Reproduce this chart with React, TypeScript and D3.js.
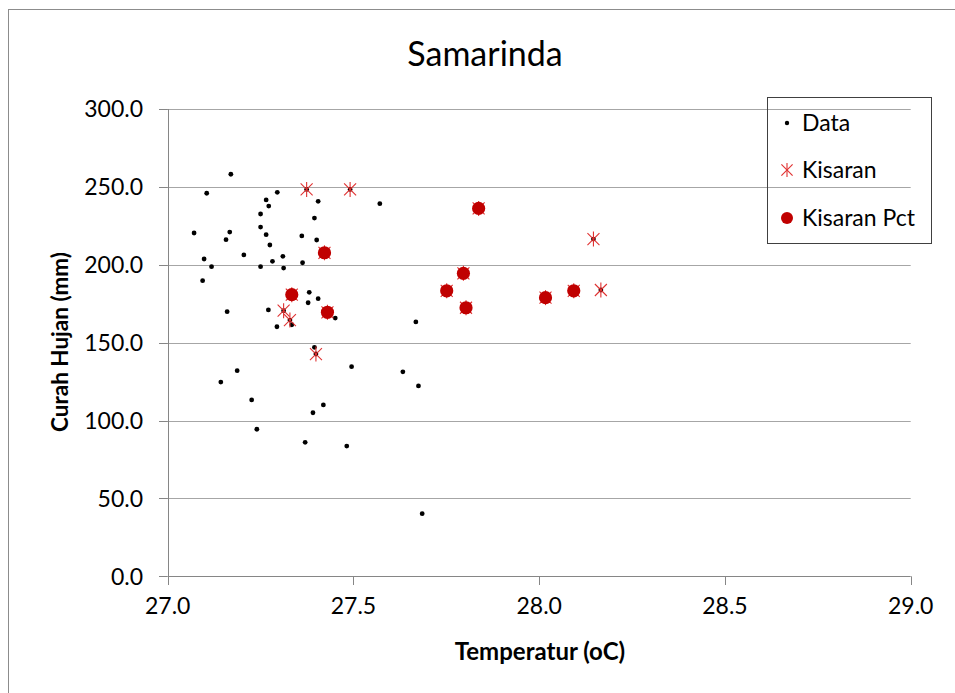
import * as d3 from "d3";

// Data series (temperature °C, rainfall mm)
const dataTemp = [
  27.17, 27.105, 27.295, 27.374, 27.491, 27.265, 27.272, 27.405, 27.571, 27.25,
  27.395, 27.071, 27.167, 27.157, 27.25, 27.265, 27.361, 27.401, 27.275, 27.205,
  27.098, 27.118, 27.25, 27.282, 27.31, 27.312, 27.363, 27.422, 27.094, 27.334,
  27.381, 27.405, 27.378, 27.16, 27.271, 27.312, 27.329, 27.334, 27.43, 27.451,
  27.294, 27.668, 27.395, 27.399, 27.495, 27.187, 27.143, 27.633, 27.675, 27.226,
  27.419, 27.391, 27.24, 27.37, 27.482, 27.685, 27.837, 28.146, 27.796, 27.751,
  27.803, 28.017, 28.093, 28.166,
];
const dataRain = [
  258.1, 245.9, 246.5, 248.4, 248.4, 241.6, 237.7, 240.7, 239.2, 232.6,
  230.0, 220.4, 221.0, 216.1, 224.2, 219.3, 218.5, 215.9, 212.7, 206.3,
  203.7, 198.8, 198.8, 202.2, 205.4, 197.9, 201.3, 207.7, 189.8, 180.8,
  182.3, 178.2, 175.6, 169.9, 171.0, 170.5, 164.5, 161.5, 169.5, 165.8,
  160.2, 163.3, 147.0, 142.7, 134.6, 132.0, 124.7, 131.3, 122.2, 113.2,
  110.0, 105.0, 94.4, 86.0, 83.6, 40.2, 236.2, 216.5, 194.5, 183.3,
  172.4, 178.9, 183.3, 183.8,
];

const kisaranTemp = [
  27.374, 27.491, 27.312, 27.329, 27.399, 28.146, 28.166,
  27.422, 27.334, 27.43, 27.837, 27.796, 27.751, 27.803, 28.017, 28.093,
];
const kisaranRain = [
  248.4, 248.4, 170.5, 164.5, 142.7, 216.5, 183.8,
  207.7, 180.8, 169.5, 236.2, 194.5, 183.3, 172.4, 178.9, 183.3,
];

const pctTemp = [27.422, 27.334, 27.43, 27.837, 27.796, 27.751, 27.803, 28.017, 28.093];
const pctRain = [207.7, 180.8, 169.5, 236.2, 194.5, 183.3, 172.4, 178.9, 183.3];

const xTicks = [27.0, 27.5, 28.0, 28.5, 29.0];
const yTicks = [0, 50, 100, 150, 200, 250, 300];
const legendLabels = ["Data", "Kisaran", "Kisaran Pct"];

const W = 955;
const H = 693;
const FONT = "Lato, 'Open Sans', sans-serif";
const RED = "#C00000";
const STAR = "#E03030";

function Star({ x, y, s = 7.5 }: { x: number; y: number; s?: number }) {
  const d = s * 0.8;
  return (
    <g stroke={STAR} strokeWidth={1.1} fill="none">
      <line x1={x - d} y1={y - d} x2={x + d} y2={y + d} />
      <line x1={x - d} y1={y + d} x2={x + d} y2={y - d} />
      <line x1={x} y1={y - s} x2={x} y2={y + s} />
    </g>
  );
}

export default function App() {
  const x = d3.scaleLinear().domain([27, 29]).range([167.7, 910.7]);
  const y = d3.scaleLinear().domain([0, 300]).range([576.3, 109]);
  const fmt = d3.format(".1f");

  const dataPts = dataTemp.map((t, i) => [t, dataRain[i]]);
  const kisPts = kisaranTemp.map((t, i) => [t, kisaranRain[i]]);
  const pctPts = pctTemp.map((t, i) => [t, pctRain[i]]);

  const lx = 787;
  const legendY = [123, 170, 218];

  return (
    <svg
      width={W}
      height={H}
      style={{ position: "absolute", left: 0, top: 0, display: "block", background: "#fff" }}
    >
      {/* outer chart border */}
      <rect x={8.5} y={9.5} width={W + 20} height={H + 20} fill="#fff" stroke="#8c8c8c" />

      <text x={485} y={66} textAnchor="middle" fontFamily={FONT} fontSize={34} fill="#000">
        Samarinda
      </text>

      {/* gridlines + y ticks */}
      {yTicks.map((t) => (
        <g key={t}>
          {t > 0 && (
            <line x1={159} x2={x(29)} y1={Math.round(y(t)) + 0.5} y2={Math.round(y(t)) + 0.5} stroke="#a6a6a6" />
          )}
          <line x1={159} x2={x(27)} y1={Math.round(y(t)) + 0.5} y2={Math.round(y(t)) + 0.5} stroke="#868686" />
          <text
            x={143}
            y={y(t)}
            dy="0.36em"
            textAnchor="end"
            fontFamily={FONT}
            fontSize={23}
            fill="#000"
          >
            {fmt(t)}
          </text>
        </g>
      ))}

      {/* axes */}
      <line x1={Math.round(x(27)) + 0.5} x2={Math.round(x(27)) + 0.5} y1={y(300)} y2={585} stroke="#868686" />
      <line x1={x(27)} x2={x(29)} y1={Math.round(y(0)) + 0.5} y2={Math.round(y(0)) + 0.5} stroke="#868686" />
      {xTicks.map((t) => (
        <g key={t}>
          <line x1={Math.round(x(t)) + 0.5} x2={Math.round(x(t)) + 0.5} y1={y(0)} y2={585} stroke="#868686" />
          <text x={x(t)} y={614} textAnchor="middle" fontFamily={FONT} fontSize={23} fill="#000">
            {fmt(t)}
          </text>
        </g>
      ))}

      <text x={540} y={660} textAnchor="middle" fontFamily={FONT} fontWeight="bold" fontSize={24} fill="#000">
        Temperatur (oC)
      </text>
      <text
        transform="translate(68,342) rotate(-90)"
        textAnchor="middle"
        fontFamily={FONT}
        fontWeight="bold"
        fontSize={22.5}
        fill="#000"
      >
        Curah Hujan (mm)
      </text>

      {/* series */}
      {dataPts.map((p, i) => (
        <circle key={"d" + i} cx={x(p[0])} cy={y(p[1])} r={2.4} fill="#000" />
      ))}
      {kisPts.map((p, i) => (
        <Star key={"k" + i} x={x(p[0])} y={y(p[1])} />
      ))}
      {pctPts.map((p, i) => (
        <circle key={"p" + i} cx={x(p[0])} cy={y(p[1])} r={6.6} fill={RED} />
      ))}

      {/* legend */}
      <rect x={767.5} y={97.5} width={164} height={146} fill="none" stroke="#404040" />
      <circle cx={lx} cy={legendY[0]} r={2.2} fill="#000" />
      <Star x={lx} y={legendY[1]} s={7} />
      <circle cx={lx} cy={legendY[2]} r={6} fill={RED} />
      {legendLabels.map((l, i) => (
        <text key={l} x={802} y={legendY[i]} dy="0.36em" fontFamily={FONT} fontSize={23} fill="#000">
          {l}
        </text>
      ))}
    </svg>
  );
}
